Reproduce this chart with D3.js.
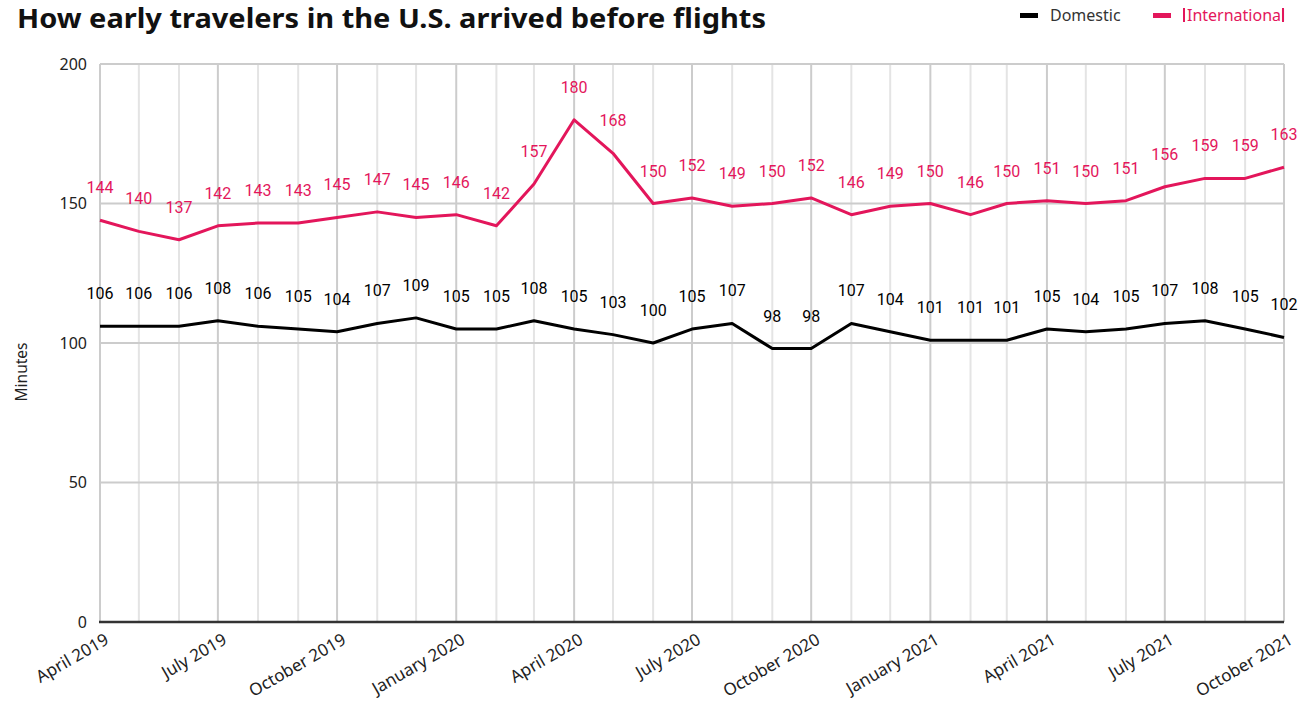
<!DOCTYPE html>
<html>
<head>
<meta charset="utf-8">
<script src="https://cdn.jsdelivr.net/npm/d3@7"></script>
<style>
  body { margin: 0; background: #fff; }
  text { font-family: "Noto Sans", Lato, sans-serif; }
  .c-label { font-family: Roboto, sans-serif; font-size: 16px; }
</style>
</head>
<body>
<svg class="js-chart" width="1315" height="702"></svg>
<script>
"use strict";

//data

const startMonth = "2019-04";
const domestic = [106, 106, 106, 108, 106, 105, 104, 107, 109, 105, 105, 108, 105, 103, 100, 105, 107, 98, 98, 107, 104, 101, 101, 101, 105, 104, 105, 107, 108, 105, 102];
const international = [144, 140, 137, 142, 143, 143, 145, 147, 145, 146, 142, 157, 180, 168, 150, 152, 149, 150, 152, 146, 149, 150, 146, 150, 151, 150, 151, 156, 159, 159, 163];
const yTicks = [0, 50, 100, 150, 200];
const seriesNames = ["Domestic", "International"];

//colors

const pink = "#e3165b";
const colors = ["#000", pink];

//months

const parse = d3.timeParse("%Y-%m");
const months = domestic.map((e, i) => d3.timeMonth.offset(parse(startMonth), i));

//scales

const margin = { left: 100, right: 31, top: 64, bottom: 80 };
const W = 1315;
const H = 702;

const x = d3.scaleTime()
  .domain(d3.extent(months))
  .range([margin.left, W - margin.right]);

const y = d3.scaleLinear()
  .domain([0, 200])
  .range([H - margin.bottom, margin.top]);

const svg = d3.select(".js-chart");

//grid

svg.append("g")
  .selectAll("line")
  .data(months)
  .enter()
  .append("line")
  .attr("x1", (d) => x(d))
  .attr("x2", (d) => x(d))
  .attr("y1", y(200))
  .attr("y2", y(0))
  .attr("stroke", (d) => d.getMonth() % 3 === 0 ? "#cccccc" : "#e4e4e4")
  .attr("stroke-width", 2);

svg.append("g")
  .selectAll("line")
  .data(yTicks)
  .enter()
  .append("line")
  .attr("x1", x.range()[0])
  .attr("x2", x.range()[1])
  .attr("y1", (d) => y(d))
  .attr("y2", (d) => y(d))
  .attr("stroke", "#cccccc")
  .attr("stroke-width", 2);

//axes

const yAxis = svg.append("g")
  .attr("transform", `translate(${margin.left - 10}, 0)`)
  .call(d3.axisLeft(y).tickValues(yTicks).tickSize(0));

yAxis.select(".domain").remove();
yAxis.selectAll("text")
  .attr("font-size", 16)
  .attr("fill", "#222")
  .style("font-family", "'Noto Sans', sans-serif");

svg.append("line")
  .attr("x1", x.range()[0] - 1)
  .attr("x2", x.range()[1])
  .attr("y1", y(0))
  .attr("y2", y(0))
  .attr("stroke", "#333")
  .attr("stroke-width", 2.5);

const fmt = d3.timeFormat("%B %Y");

svg.append("g")
  .selectAll("text")
  .data(months.filter((d) => d.getMonth() % 3 === 0))
  .enter()
  .append("text")
  .attr("transform", (d) => `translate(${x(d) + 10}, ${y(0) + 21}) rotate(-30)`)
  .attr("text-anchor", "end")
  .attr("font-size", 17)
  .attr("fill", "#222")
  .text((d) => fmt(d));

svg.append("text")
  .attr("transform", `translate(27, ${(y(0) + y(200)) / 2 + 29}) rotate(-90)`)
  .attr("text-anchor", "middle")
  .attr("font-size", 15.5)
  .attr("fill", "#222")
  .text("Minutes");

//lines

const lineFn = d3.line()
  .x((d, i) => x(months[i]))
  .y((d) => y(d));

[domestic, international].forEach((series, k) => {

  svg.append("path")
    .datum(series)
    .attr("d", lineFn)
    .attr("fill", "none")
    .attr("stroke", colors[k])
    .attr("stroke-width", 3)
    .attr("stroke-linejoin", "round");

  svg.append("g")
    .selectAll("text")
    .data(series)
    .enter()
    .append("text")
    .attr("class", "c-label")
    .attr("x", (d, i) => x(months[i]))
    .attr("y", (d) => y(d) - 27)
    .attr("text-anchor", "middle")
    .attr("fill", colors[k])
    .text((d) => d);

});

//title

svg.append("text")
  .attr("x", 17)
  .attr("y", 28)
  .attr("font-size", 27)
  .attr("font-weight", 700)
  .attr("fill", "#111")
  .attr("textLength", 749)
  .attr("lengthAdjust", "spacingAndGlyphs")
  .text("How early travelers in the U.S. arrived before flights");

//legend

const legendX = [1020, 1153];

const legend = svg.append("g")
  .selectAll("g")
  .data(seriesNames)
  .enter()
  .append("g")
  .attr("transform", (d, i) => `translate(${legendX[i]}, 15)`);

legend.append("rect")
  .attr("y", -2)
  .attr("width", 18)
  .attr("height", 5)
  .attr("fill", (d, i) => colors[i]);

legend.append("text")
  .attr("x", (d, i) => i ? 34 : 30)
  .attr("y", 6)
  .attr("font-size", 16)
  .attr("fill", (d, i) => i ? pink : "#333")
  .text((d) => d);

//cursor marks round the second legend entry

svg.append("g")
  .selectAll("rect")
  .data([1183, 1282])
  .enter()
  .append("rect")
  .attr("x", (d) => d)
  .attr("y", 8)
  .attr("width", 2)
  .attr("height", 14)
  .attr("fill", pink);

</script>
</body>
</html>
